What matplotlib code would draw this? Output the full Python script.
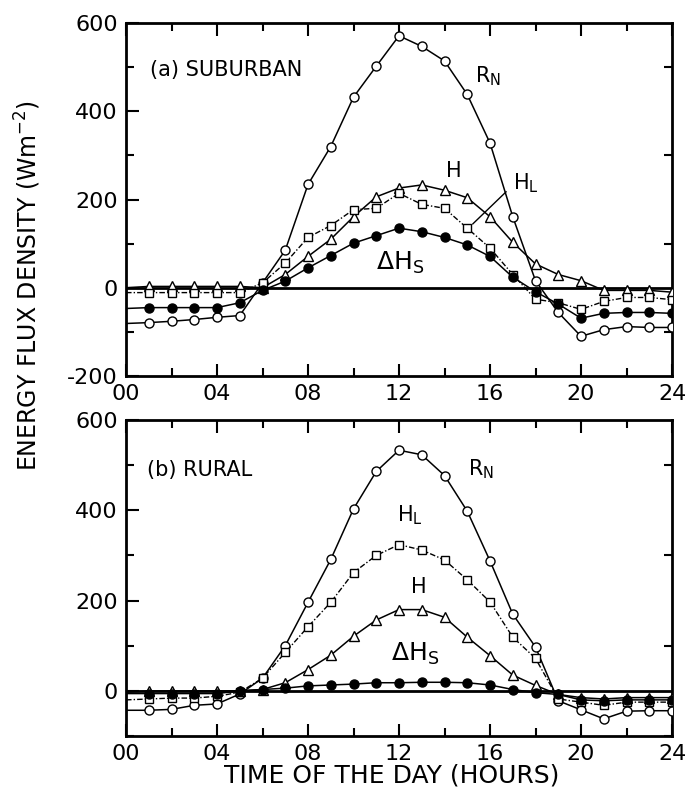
import matplotlib
matplotlib.use("Agg")
import matplotlib.pyplot as plt
from matplotlib.ticker import MultipleLocator

plt.rcParams['font.family'] = ['DejaVu Sans']
plt.rcParams['axes.unicode_minus'] = False

hours = list(range(0, 25))

# (a) Suburban
sub_rn = [-81, -79, -76, -72, -67, -63, 11, 85, 234, 320, 432, 502, 571, 547, 514, 438, 328, 161, 16, -56, -110, -95, -88, -90, -90]
sub_h = [0, 3, 3, 3, 3, 3, 0, 30, 71, 110, 161, 206, 226, 233, 221, 204, 161, 103, 54, 30, 16, -6, -6, -6, -10]
sub_hl = [-11, -11, -11, -11, -11, -11, 11, 56, 114, 141, 177, 180, 214, 189, 180, 135, 90, 30, -26, -34, -49, -31, -22, -22, -27]
sub_dhs = [-47, -45, -45, -45, -45, -34, -6, 15, 45, 73, 101, 118, 135, 127, 114, 97, 71, 24, -9, -37, -69, -58, -56, -56, -58]

# (b) Rural
rur_rn = [-43, -43, -41, -32, -29, -7, 28, 100, 196, 291, 403, 486, 533, 523, 477, 398, 288, 170, 97, -22, -42, -62, -45, -44, -44]
rur_h = [-3, 0, 0, 0, 0, 0, 3, 18, 47, 79, 121, 157, 180, 180, 163, 119, 78, 35, 12, -8, -15, -18, -15, -15, -15]
rur_hl = [-20, -18, -16, -16, -12, -3, 28, 85, 142, 196, 262, 300, 324, 312, 290, 246, 197, 119, 72, -18, -25, -32, -25, -25, -25]
rur_dhs = [-6, -6, -6, -6, -6, 0, 3, 6, 11, 13, 15, 18, 18, 19, 19, 18, 13, 3, -4, -8, -20, -22, -20, -20, -20]

xtick_labels = ["00", "04", "08", "12", "16", "20", "24"]

W, H = 686, 801
fig = plt.figure(figsize=(W / 100, H / 100), dpi=100)


def axes_px(left, top, right, bottom):
    return fig.add_axes([left / W, 1 - bottom / H, (right - left) / W, (bottom - top) / H])


ax1 = axes_px(126, 23, 672, 376)
ax2 = axes_px(126, 420, 672, 736)

mk = dict(markersize=6.5, markeredgewidth=1.0, color='black', markevery=list(range(1, 25)))


def draw(ax, rn, h, hl, dhs):
    ax.axhline(0, color='black', lw=2.0, zorder=1)
    ax.plot(hours, rn, '-', marker='o', mfc='white', lw=1.1, zorder=3, **mk)
    ax.plot(hours, h, '-', marker='^', mfc='white', lw=1.1, zorder=3, **mk)
    ax.plot(hours, hl, linestyle=(0, (4, 1.5, 1, 1.5)), marker='s', mfc='white', lw=1.0, zorder=3,
            **{**mk, 'markersize': 6.0})
    ax.plot(hours, dhs, '-', marker='o', mfc='black', lw=1.1, zorder=4, **mk)
    ax.set_xlim(0, 24)
    ax.set_xticks(range(0, 25, 4))
    ax.set_xticklabels(xtick_labels)
    ax.xaxis.set_minor_locator(MultipleLocator(2))
    ax.yaxis.set_minor_locator(MultipleLocator(100))
    ax.tick_params(which='major', direction='in', length=9, width=1.5, labelsize=16,
                   top=True, right=False, pad=6)
    ax.tick_params(which='minor', direction='in', length=6, width=1.5, top=True, right=True)
    for s in ax.spines.values():
        s.set_linewidth(2.0)


draw(ax1, sub_rn, sub_h, sub_hl, sub_dhs)
ax1.set_ylim(-200, 600)
ax1.set_yticks([-200, 0, 200, 400, 600])

draw(ax2, rur_rn, rur_h, rur_hl, rur_dhs)
ax2.set_ylim(-100, 600)
ax2.set_yticks([0, 200, 400, 600])

# labels panel (a)
lab = dict(fontsize=15, color='black')
ax1.text(1.05, 494, "(a) SUBURBAN", ha='left', va='center', **lab)
ax1.text(15.9, 480, r"R$_{\mathregular{N}}$", ha='center', va='center', **lab)
ax1.text(14.4, 265, "H", ha='center', va='center', **lab)
ax1.text(17.6, 236, r"H$_{\mathregular{L}}$", ha='center', va='center', **lab)
ax1.annotate("", xy=(15.15, 140), xytext=(16.8, 222),
             arrowprops=dict(arrowstyle='-', color='black', lw=1.0))
ax1.text(12.05, 56, r"$\Delta$H$_{\mathregular{S}}$", ha='center', va='center', fontsize=18)

# labels panel (b)
ax2.text(0.92, 490, "(b) RURAL", ha='left', va='center', **lab)
ax2.text(15.6, 490, r"R$_{\mathregular{N}}$", ha='center', va='center', **lab)
ax2.text(12.5, 390, r"H$_{\mathregular{L}}$", ha='center', va='center', **lab)
ax2.text(12.85, 230, "H", ha='center', va='center', **lab)
ax2.text(12.7, 82, r"$\Delta$H$_{\mathregular{S}}$", ha='center', va='center', fontsize=18)

fig.text(28 / W, 1 - 285 / H, r"ENERGY FLUX DENSITY (Wm$^{\mathregular{-2}}$)", rotation=90,
         ha='center', va='center', fontsize=17)
fig.text(392 / W, 1 - 776 / H, "TIME OF THE DAY (HOURS)", ha='center', va='center', fontsize=18)

fig.savefig("out.png", dpi=100)
